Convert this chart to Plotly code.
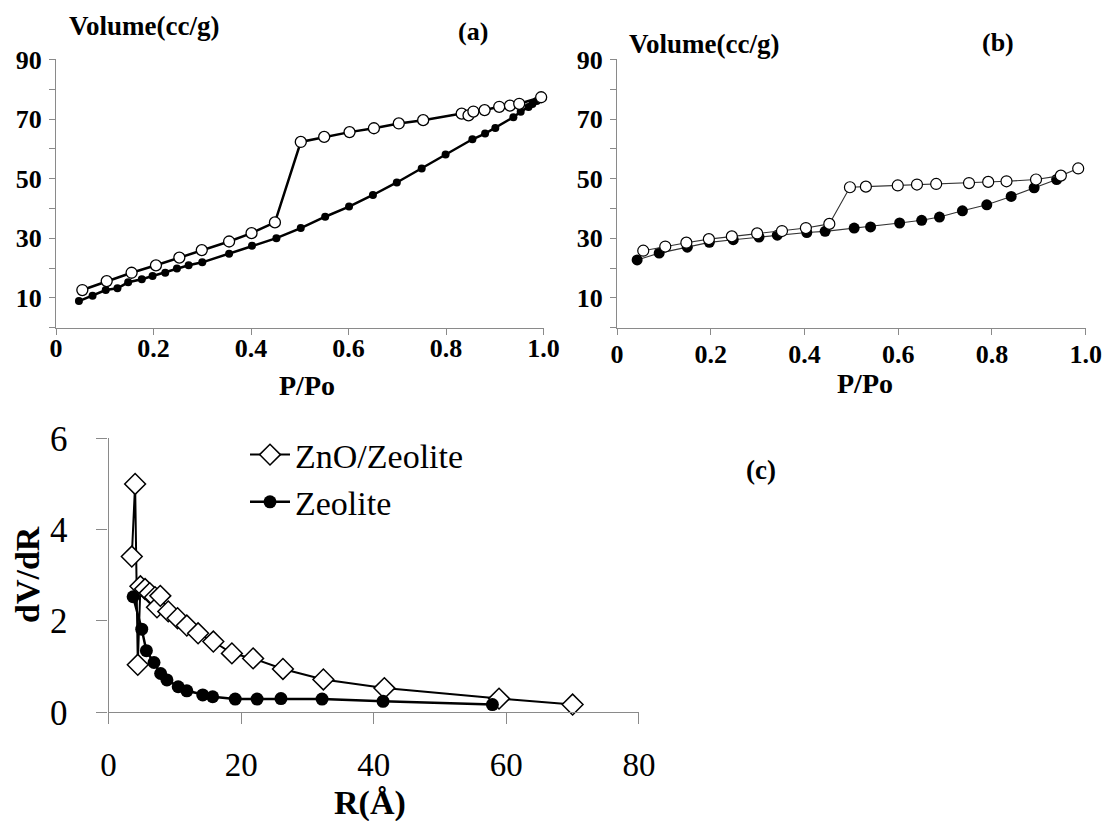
import plotly.graph_objects as go

# ---------------- data ----------------
# (a) ZnO/Zeolite isotherm
a_ads_x = [0.047, 0.075, 0.102, 0.126, 0.148, 0.176, 0.198, 0.224, 0.248, 0.272, 0.300, 0.355, 0.402,
           0.452, 0.502, 0.552, 0.601, 0.650, 0.699, 0.750, 0.799, 0.854, 0.880, 0.901, 0.938, 0.953,
           0.969, 0.977, 0.986]
a_ads_y = [8.9, 10.7, 12.6, 13.2, 15.2, 16.2, 17.3, 18.4, 19.8, 20.9, 21.9, 24.8, 27.5,
           30.0, 33.4, 37.2, 40.6, 44.5, 48.7, 53.4, 58.1, 63.2, 65.1, 67.0, 70.6, 72.4,
           74.0, 75.0, 76.0]
a_des_x = [0.054, 0.104, 0.155, 0.205, 0.253, 0.299, 0.355, 0.401, 0.449, 0.502, 0.550, 0.602,
           0.652, 0.703, 0.753, 0.832, 0.846, 0.856, 0.879, 0.909, 0.931, 0.950, 0.995]
a_des_y = [12.6, 15.6, 18.4, 20.9, 23.5, 26.0, 28.9, 31.7, 35.3, 62.3, 64.0, 65.6,
           66.9, 68.5, 69.6, 71.8, 71.2, 72.5, 73.0, 74.1, 74.5, 75.1, 77.3]

# (b) Zeolite isotherm
b_ads_x = [0.043, 0.090, 0.150, 0.197, 0.248, 0.303, 0.342, 0.405, 0.444, 0.506, 0.541, 0.603,
           0.650, 0.688, 0.737, 0.789, 0.841, 0.890, 0.938]
b_ads_y = [22.7, 25.0, 27.0, 28.6, 29.5, 30.4, 31.0, 31.9, 32.3, 33.4, 33.8, 35.1,
           36.0, 37.1, 39.2, 41.2, 44.0, 46.9, 49.7]
b_des_x = [0.056, 0.103, 0.148, 0.196, 0.245, 0.299, 0.352, 0.403, 0.453, 0.497, 0.531, 0.599,
           0.640, 0.681, 0.751, 0.792, 0.831, 0.894, 0.947, 0.984]
b_des_y = [25.8, 27.2, 28.5, 29.7, 30.6, 31.6, 32.4, 33.4, 34.8, 47.1, 47.3, 47.7,
           48.0, 48.2, 48.5, 48.9, 49.1, 49.7, 51.0, 53.4]

# (c) pore size distribution
c_zno_r = [3.5, 4.0, 4.4, 4.8, 5.5, 6.2, 7.0, 7.3, 7.8, 9.0, 10.4, 11.8, 13.5, 15.8, 18.6,
           21.8, 26.3, 32.4, 41.6, 58.9, 70.0]
c_zno_v = [3.41, 5.0, 1.04, 2.76, 2.70, 2.61, 2.52, 2.30, 2.55, 2.21, 2.06, 1.90, 1.73, 1.55, 1.29,
           1.18, 0.95, 0.72, 0.53, 0.30, 0.17]
c_zeo_r = [3.7, 5.0, 5.7, 6.85, 7.85, 8.8, 10.5, 11.8, 14.2, 15.7, 19.1, 22.4, 26.0, 32.2, 41.4, 57.9]
c_zeo_v = [2.53, 1.82, 1.35, 1.09, 0.85, 0.71, 0.56, 0.47, 0.38, 0.34, 0.29, 0.29, 0.30, 0.29,
           0.24, 0.17]

iso_y_ticks = [0, 10, 20, 30, 40, 50, 60, 70, 80, 90]
iso_y_text = ["", "10", "", "30", "", "50", "", "70", "", "90"]
iso_x_ticks = [0, 0.2, 0.4, 0.6, 0.8, 1.0]
iso_x_text = ["0", "0.2", "0.4", "0.6", "0.8", "1.0"]
psd_x_ticks = [0, 20, 40, 60, 80]
psd_y_ticks = [0, 2, 4, 6]

SERIF = "Liberation Serif"
AXC = "#8a8a8a"
W, H = 1117, 821


def px_x(p):
    return p / W


def px_y(p):
    return 1 - p / H


fig = go.Figure()

# (a)
fig.add_trace(go.Scatter(x=a_ads_x, y=a_ads_y, mode="lines+markers", xaxis="x", yaxis="y",
                         line=dict(color="black", width=2.5),
                         marker=dict(symbol="circle", size=8, color="black"),
                         cliponaxis=False, showlegend=False))
fig.add_trace(go.Scatter(x=a_des_x, y=a_des_y, mode="lines+markers", xaxis="x", yaxis="y",
                         line=dict(color="black", width=2.5),
                         marker=dict(symbol="circle", size=11, color="white",
                                     line=dict(color="black", width=1.3)),
                         cliponaxis=False, showlegend=False))
# (b)
fig.add_trace(go.Scatter(x=b_ads_x, y=b_ads_y, mode="lines+markers", xaxis="x2", yaxis="y2",
                         line=dict(color="#333333", width=1.1),
                         marker=dict(symbol="circle", size=11, color="black"),
                         cliponaxis=False, showlegend=False))
fig.add_trace(go.Scatter(x=b_des_x, y=b_des_y, mode="lines+markers", xaxis="x2", yaxis="y2",
                         line=dict(color="#333333", width=1.1),
                         marker=dict(symbol="circle", size=11, color="white",
                                     line=dict(color="black", width=1.2)),
                         cliponaxis=False, showlegend=False))
# (c)
fig.add_trace(go.Scatter(x=c_zno_r, y=c_zno_v, mode="lines+markers", xaxis="x3", yaxis="y3",
                         name="ZnO/Zeolite",
                         line=dict(color="black", width=2),
                         marker=dict(symbol="diamond", size=16, color="white",
                                     line=dict(color="black", width=1.5)),
                         cliponaxis=False))
fig.add_trace(go.Scatter(x=c_zeo_r, y=c_zeo_v, mode="lines+markers", xaxis="x3", yaxis="y3",
                         name="Zeolite",
                         line=dict(color="black", width=2.5),
                         marker=dict(symbol="circle", size=13, color="black"),
                         cliponaxis=False))

iso_tickfont = dict(family=SERIF, size=26, color="black", weight="bold")
common = dict(showline=True, linecolor=AXC, linewidth=1.3, showgrid=False, zeroline=False,
              ticks="outside", tickcolor=AXC, tickwidth=1.3, automargin=False)

fig.update_layout(
    template="none",
    font=dict(family=SERIF, color="black"),
    width=W, height=H, margin=dict(l=0, r=0, t=0, b=0, pad=0), autosize=False,
    plot_bgcolor="white", paper_bgcolor="white",
    xaxis=dict(domain=[px_x(56), px_x(543.6)], range=[0, 1], anchor="y",
               tickvals=iso_x_ticks, ticktext=iso_x_text, ticklen=6, tickfont=iso_tickfont,
               ticklabelstandoff=-9, **common),
    yaxis=dict(domain=[px_y(327.6), px_y(59.4)], range=[0, 90], anchor="x",
               tickvals=iso_y_ticks, ticktext=iso_y_text, ticklen=6, tickfont=iso_tickfont,
               ticklabelstandoff=2, **common),
    xaxis2=dict(domain=[px_x(617), px_x(1085.7)], range=[0, 1], anchor="y2",
                tickvals=iso_x_ticks, ticktext=iso_x_text, ticklen=6, tickfont=iso_tickfont,
                ticklabelstandoff=-3, **common),
    yaxis2=dict(domain=[px_y(327.6), px_y(59.4)], range=[0, 90], anchor="x2",
                tickvals=iso_y_ticks, ticktext=iso_y_text, ticklen=6, tickfont=iso_tickfont,
                ticklabelstandoff=2, **common),
    xaxis3=dict(domain=[px_x(108.6), px_x(638.9)], range=[0, 80], anchor="y3",
                tickvals=psd_x_ticks, ticklen=11,
                tickfont=dict(family=SERIF, size=33, color="black"),
                ticklabelstandoff=12, **common),
    yaxis3=dict(domain=[px_y(712.3), px_y(438.3)], range=[0, 6], anchor="x3",
                tickvals=psd_y_ticks, ticklen=11,
                tickfont=dict(family=SERIF, size=35, color="black"),
                ticklabelstandoff=22, **common),
    legend=dict(x=px_x(245), y=px_y(426), xanchor="left", yanchor="top",
                font=dict(family=SERIF, size=34, color="black"),
                bgcolor="rgba(0,0,0,0)", itemwidth=40, tracegroupgap=0),
)

ann_bold = lambda s: dict(family=SERIF, size=s, color="black", weight="bold")
annotations = [
    dict(text="Volume(cc/g)", x=px_x(67), y=px_y(26), xanchor="left", yanchor="middle",
         font=ann_bold(27)),
    dict(text="(a)", x=px_x(473), y=px_y(31), xanchor="center", yanchor="middle",
         font=ann_bold(26)),
    dict(text="P/Po", x=px_x(307), y=px_y(386), xanchor="center", yanchor="middle",
         font=ann_bold(28)),
    dict(text="Volume(cc/g)", x=px_x(627), y=px_y(44), xanchor="left", yanchor="middle",
         font=ann_bold(27)),
    dict(text="(b)", x=px_x(998), y=px_y(42), xanchor="center", yanchor="middle",
         font=ann_bold(26)),
    dict(text="P/Po", x=px_x(865), y=px_y(383), xanchor="center", yanchor="middle",
         font=ann_bold(28)),
    dict(text="(c)", x=px_x(761), y=px_y(470), xanchor="center", yanchor="middle",
         font=ann_bold(27)),
    dict(text="R(Å)", x=px_x(370), y=px_y(803), xanchor="center", yanchor="middle",
         font=ann_bold(34)),
    dict(text="dV/dR", x=px_x(27), y=px_y(575), xanchor="center", yanchor="middle",
         textangle=-90, font=ann_bold(34)),
]
for a in annotations:
    a.update(xref="paper", yref="paper", showarrow=False)
fig.update_layout(annotations=annotations)

fig.write_html("out.html")
